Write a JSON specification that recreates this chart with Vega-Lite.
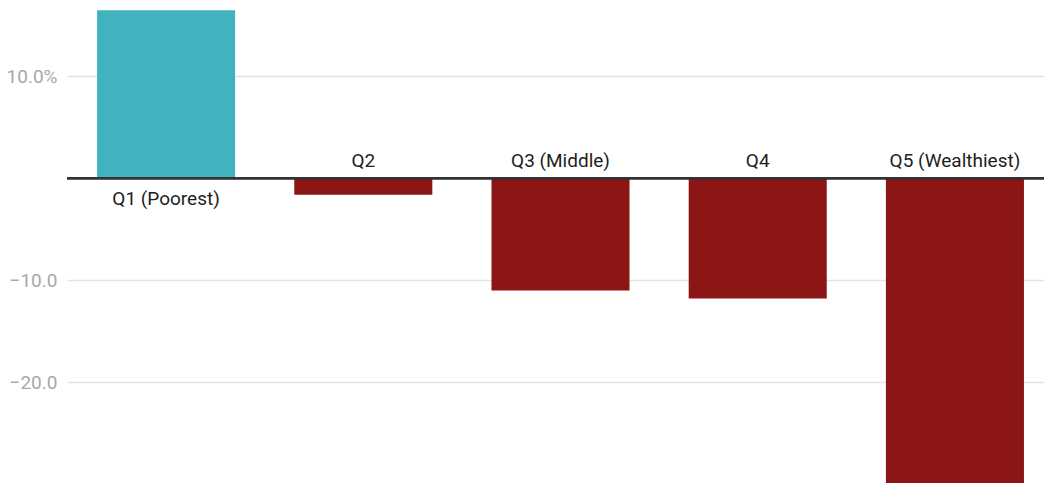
{
  "$schema": "https://vega.github.io/schema/vega-lite/v6.json",
  "width": 977,
  "height": 483,
  "autosize": {"type": "none"},
  "padding": {"left": 67, "top": 0, "right": 0, "bottom": 0},
  "background": "white",
  "config": {"view": {"stroke": null}, "font": "Roboto"},
  "data": {
    "values": [
      {"quintile": "Q1 (Poorest)", "value": 16.5},
      {"quintile": "Q2", "value": -1.6},
      {"quintile": "Q3 (Middle)", "value": -11.0},
      {"quintile": "Q4", "value": -11.8},
      {"quintile": "Q5 (Wealthiest)", "value": -31.0}
    ]
  },
  "encoding": {
    "x": {
      "field": "quintile",
      "type": "nominal",
      "sort": null,
      "axis": null,
      "scale": {"paddingInner": 0.3, "paddingOuter": 0.127, "align": 0.6}
    }
  },
  "layer": [
    {
      "mark": {"type": "bar", "clip": true},
      "encoding": {
        "y": {
          "field": "value",
          "type": "quantitative",
          "scale": {"domain": [-29.9, 17.5], "nice": false, "zero": false},
          "axis": {
            "title": null,
            "values": [10, -10, -20],
            "labelExpr": "datum.value == 10 ? '10.0%' : format(datum.value, '.1f')",
            "domain": false,
            "ticks": false,
            "labelPadding": 10,
            "labelFontSize": 19,
            "labelColor": "#a8a8a8",
            "labelFont": "Roboto",
            "gridColor": "#e3e3e3",
            "gridWidth": 1.5
          }
        },
        "color": {
          "condition": {"test": "datum.value > 0", "value": "#41b3be"},
          "value": "#8c1516"
        }
      }
    },
    {
      "mark": {"type": "rule", "color": "#333333", "strokeWidth": 2},
      "encoding": {"y": {"datum": 0, "type": "quantitative"}, "x": {"value": 0}, "x2": {"value": 977}}
    },
    {
      "transform": [{"filter": "datum.value > 0"}],
      "mark": {"type": "text", "baseline": "alphabetic", "dy": 27, "fontSize": 19, "color": "#1e1e1e", "font": "Roboto"},
      "encoding": {"y": {"datum": 0, "type": "quantitative"}, "text": {"field": "quintile"}}
    },
    {
      "transform": [{"filter": "datum.value <= 0"}],
      "mark": {"type": "text", "baseline": "alphabetic", "dy": -11, "fontSize": 19, "color": "#1e1e1e", "font": "Roboto"},
      "encoding": {"y": {"datum": 0, "type": "quantitative"}, "text": {"field": "quintile"}}
    }
  ]
}
